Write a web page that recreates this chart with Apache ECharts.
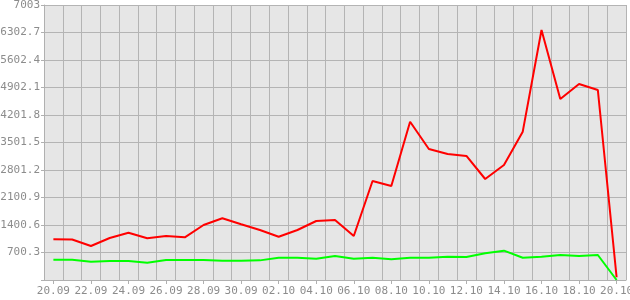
<!DOCTYPE html>
<html><head><meta charset="utf-8">
<script src="https://cdn.jsdelivr.net/npm/echarts@6/dist/echarts.min.js"></script>
<style>html,body{margin:0;padding:0;background:#fff}#c{width:630px;height:300px}</style>
</head><body><div id="c"></div>
<script>
const categories = ['20.09','21.09','22.09','23.09','24.09','25.09','26.09','27.09','28.09','29.09','30.09',
  '01.10','02.10','03.10','04.10','05.10','06.10','07.10','08.10','09.10','10.10','11.10','12.10','13.10',
  '14.10','15.10','16.10','17.10','18.10','19.10','20.10'];
const redValues = [1036,1030,866,1070,1205,1062,1120,1087,1400,1571,1420,1273,1103,1273,1502,1528,1120,2521,2394,4031,3336,3209,3158,2572,2929,3777,6366,4610,4991,4838,70];
const greenValues = [517,517,466,484,484,441,509,509,509,492,492,500,568,568,543,611,543,568,526,568,568,594,585,679,747,568,594,637,611,637,0];
const yTicks = [700.3,1400.6,2100.9,2801.2,3501.5,4201.8,4902.1,5602.4,6302.7,7003];

const font = 'DejaVu Sans Mono';
const chart = echarts.init(document.getElementById('c'), null, {renderer:'canvas'});
chart.setOption({
  animation:false,
  backgroundColor:'#ffffff',
  grid:{left:44,right:4,top:5,bottom:20,show:true,backgroundColor:'#e6e6e6',borderWidth:0,
    containLabel:false,outerBoundsMode:'none'},
  xAxis:{type:'category',data:categories,boundaryGap:true,
    axisLine:{lineStyle:{color:'#b0b0b0',width:1}},
    axisTick:{show:true,alignWithLabel:true,interval:1,length:4,lineStyle:{color:'#b0b0b0'}},
    axisLabel:{interval:1,color:'#8c8c8c',fontFamily:font,fontSize:11,margin:6,hideOverlap:false},
    splitLine:{show:true,interval:0,lineStyle:{color:'#b4b4b4',width:1}}
  },
  yAxis:{type:'value',min:0,max:7003,interval:700.3,
    axisLine:{show:true,lineStyle:{color:'#b0b0b0',width:1}},
    axisTick:{show:true,length:3,lineStyle:{color:'#b0b0b0'}},
    axisLabel:{color:'#8c8c8c',fontFamily:font,fontSize:11,margin:4,
      formatter:function(v){ if(v===0) return ''; const i=Math.round(v/700.3)-1; return yTicks[i]!==undefined?String(yTicks[i]):''; }},
    splitLine:{show:true,lineStyle:{color:'#b4b4b4',width:1}}
  },
  series:[
    {type:'line',data:redValues,showSymbol:false,lineStyle:{color:'#ff0000',width:2},itemStyle:{color:'#ff0000'},z:3},
    {type:'line',data:greenValues,showSymbol:false,lineStyle:{color:'#00ff00',width:2},itemStyle:{color:'#00ff00'},z:2}
  ]
});
</script></body></html>
